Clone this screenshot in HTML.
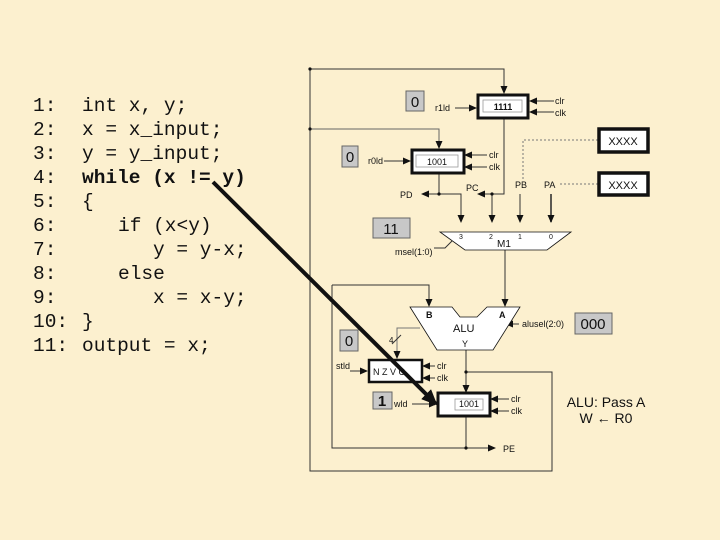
<!DOCTYPE html>
<html><head><meta charset="utf-8"><style>
body{margin:0;width:720px;height:540px;background:#fcf0cf;overflow:hidden}
svg{position:absolute;left:0;top:0}
.c{font-family:"Liberation Mono",monospace;font-size:19.5px;fill:#111}
.s{font-family:"Liberation Sans",sans-serif;font-size:9px;fill:#111}
</style></head><body>
<svg width="720" height="540" viewBox="0 0 720 540">
<defs>
<marker id="a" markerWidth="8" markerHeight="8" refX="7" refY="4" orient="auto" markerUnits="userSpaceOnUse"><path d="M0,0.5 L8,4 L0,7.5z" fill="#111"/></marker>
<marker id="b" markerWidth="16" markerHeight="14" refX="14" refY="7" orient="auto" markerUnits="userSpaceOnUse"><path d="M0,0 L16,7 L0,14z" fill="#111"/></marker>
</defs>
<g class="c">
<text x="33" y="111">1:</text><text x="82" y="111">int x, y;</text>
<text x="33" y="135">2:</text><text x="82" y="135">x = x_input;</text>
<text x="33" y="159">3:</text><text x="82" y="159">y = y_input;</text>
<text x="33" y="183">4:</text><text x="82" y="183" font-weight="bold">while (x != y)</text>
<text x="33" y="207">5:</text><text x="82" y="207">{</text>
<text x="33" y="231">6:</text><text x="118" y="231">if (x&lt;y)</text>
<text x="33" y="255">7:</text><text x="153" y="255">y = y-x;</text>
<text x="33" y="279">8:</text><text x="118" y="279">else</text>
<text x="33" y="303">9:</text><text x="153" y="303">x = x-y;</text>
<text x="33" y="327">10:</text><text x="82" y="327">}</text>
<text x="33" y="351">11:</text><text x="82" y="351">output = x;</text>
</g>
<g stroke="#333" stroke-width="1" fill="none">
<path d="M310,69 H504 V93" marker-end="url(#a)"/>
<path d="M310,69 V471 H552 V372 H466"/>
<path d="M310,129 H439 V148" stroke="#666" marker-end="url(#a)"/>
<path d="M439,173 V194 H461 V222" marker-end="url(#a)"/>
<path d="M439,194 H422" marker-end="url(#a)"/>
<path d="M504,119 V194 H492 V222" marker-end="url(#a)"/>
<path d="M492,194 H478" marker-end="url(#a)"/>
<path d="M520,194 V222" marker-end="url(#a)"/>
<path d="M551,194 V222" stroke-width="1.6" marker-end="url(#a)"/>
<path d="M598,140 H523 V180" stroke-dasharray="2,2" stroke="#777"/>
<path d="M598,184 H558" stroke-dasharray="2,2" stroke="#777"/>
<path d="M505,250 V306" marker-end="url(#a)"/>
<path d="M332,285 H429 V306" marker-end="url(#a)"/>
<path d="M332,285 V448 H495" marker-end="url(#a)"/>
<path d="M466,416 V448"/>
<path d="M466,350 V392" marker-end="url(#a)"/>
<path d="M420,328 H397 V358" stroke="#777" marker-end="url(#a)"/>
<path d="M392,344 L401,335"/>
<path d="M455,108 H476" marker-end="url(#a)"/>
<path d="M384,161 H410" marker-end="url(#a)"/>
<path d="M350,371 H367" marker-end="url(#a)"/>
<path d="M412,404 H436" marker-end="url(#a)"/>
<path d="M434,248 H445 L452,241" />
<path d="M519,324 H506" marker-end="url(#a)"/>
<path d="M554,101 H530" marker-end="url(#a)"/><path d="M554,112 H530" marker-end="url(#a)"/>
<path d="M487,155 H465" marker-end="url(#a)"/><path d="M487,167 H465" marker-end="url(#a)"/>
<path d="M435,366 H423" marker-end="url(#a)"/><path d="M435,378 H423" marker-end="url(#a)"/>
<path d="M509,399 H491" marker-end="url(#a)"/><path d="M509,411 H491" marker-end="url(#a)"/>
</g>
<g fill="#111"><circle cx="310" cy="69" r="1.6"/><circle cx="310" cy="129" r="1.6"/><circle cx="439" cy="194" r="1.6"/><circle cx="492" cy="194" r="1.6"/><circle cx="466" cy="372" r="1.6"/><circle cx="466" cy="448" r="1.6"/></g>
<g stroke="#111" fill="#fff">
<rect x="478" y="95" width="50" height="23" stroke-width="3"/>
<rect x="412" y="150" width="52" height="23" stroke-width="3"/>
<rect x="369" y="360" width="53" height="22" stroke-width="2.5"/>
<rect x="438" y="393" width="52" height="23" stroke-width="3"/>
<rect x="599" y="129" width="49" height="23" stroke-width="3.5"/>
<rect x="599" y="173" width="49" height="22" stroke-width="3.5"/>
<path d="M440,232 H571 L547,250 H465 Z" stroke-width="0.8"/>
<path d="M410,307 H452 L460,317 H477 L487,307 H520 L493,350 H437 Z" stroke-width="0.8"/>
</g>
<g stroke="#999" fill="none" stroke-width="0.8"><rect x="483" y="100" width="39" height="12"/><rect x="416" y="155" width="42" height="12"/><rect x="455" y="399" width="28" height="11"/></g>
<g fill="#c8c8c8" stroke="#666"><rect x="406" y="91" width="18" height="20"/><rect x="342" y="146" width="16" height="21"/><rect x="373" y="218" width="37" height="20"/><rect x="575" y="313" width="37" height="21"/><rect x="340" y="330" width="18" height="21"/><rect x="373" y="392" width="19" height="17"/></g>
<g font-family="Liberation Sans,sans-serif" font-size="15" fill="#111" text-anchor="middle">
<text x="415" y="107">0</text><text x="350" y="162">0</text><text x="391" y="234">11</text><text x="593" y="329">000</text><text x="349" y="346">0</text><text x="382" y="406" font-weight="bold">1</text>
</g>
<g class="s">
<text x="503" y="110" text-anchor="middle" font-weight="bold">1111</text>
<text x="437" y="165" text-anchor="middle">1001</text>
<text x="469" y="407" text-anchor="middle">1001</text>
<text x="623" y="145" text-anchor="middle" font-size="11">XXXX</text>
<text x="623" y="189" text-anchor="middle" font-size="11">XXXX</text>
<text x="435" y="111">r1ld</text><text x="368" y="164">r0ld</text>
<text x="555" y="104">clr</text><text x="555" y="116">clk</text>
<text x="489" y="158">clr</text><text x="489" y="170">clk</text>
<text x="437" y="369">clr</text><text x="437" y="381">clk</text>
<text x="511" y="402">clr</text><text x="511" y="414">clk</text>
<text x="400" y="198">PD</text><text x="466" y="191">PC</text><text x="515" y="188">PB</text><text x="544" y="188">PA</text>
<text x="459" y="239" font-size="7">3</text><text x="489" y="239" font-size="7">2</text><text x="518" y="239" font-size="7">1</text><text x="549" y="239" font-size="7">0</text>
<text x="497" y="247" font-size="10">M1</text>
<text x="395" y="255">msel(1:0)</text>
<text x="426" y="318" font-weight="bold">B</text><text x="499" y="318" font-weight="bold">A</text>
<text x="453" y="332" font-size="11">ALU</text><text x="462" y="347">Y</text>
<text x="522" y="327">alusel(2:0)</text>
<text x="389" y="343" font-size="8">4</text>
<text x="336" y="369">stld</text><text x="394" y="407">wld</text>
<text x="373" y="375">N  Z  V  C</text>
<text x="503" y="452">PE</text>
</g>
<g font-family="Liberation Sans,sans-serif" font-size="14" fill="#111" text-anchor="middle">
<text x="606" y="407">ALU:  Pass A</text><text x="606" y="423">W ← R0</text>
</g>
<path d="M213,182 L436,404" stroke="#111" stroke-width="4" marker-end="url(#b)"/>
</svg>
</body></html>
